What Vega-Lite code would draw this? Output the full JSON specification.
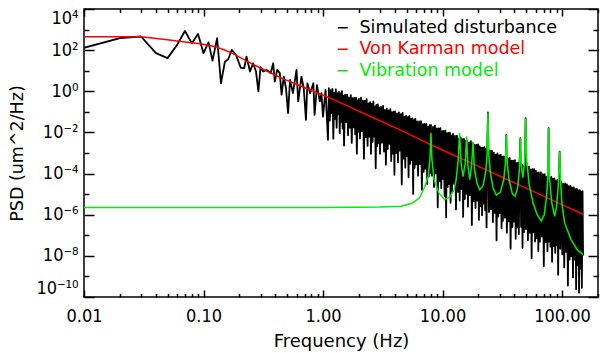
{
  "$schema": "https://vega.github.io/schema/vega-lite/v6.json",
  "width": 514,
  "height": 288,
  "autosize": {"type": "none"},
  "padding": {"left": 84, "top": 9, "right": 2, "bottom": 56},
  "background": "white",
  "config": {"view": {"stroke": "black", "strokeWidth": 1.5}, "font": "DejaVu Sans"},
  "datasets": {
    "black": [
      {"f":0.01,"p":130},{"f":0.02,"p":380},{"f":0.03,"p":460},{"f":0.04,"p":71},{"f":0.05,"p":41},{"f":0.06,"p":178},{"f":0.07,"p":850},{"f":0.08,"p":214},{"f":0.09,"p":617},{"f":0.1,"p":71},{"f":0.11,"p":240},{"f":0.119,"p":31},{"f":0.13,"p":380},{"f":0.14,"p":2.45},{"f":0.151,"p":27.5},{"f":0.161,"p":36},{"f":0.172,"p":102},{"f":0.187,"p":59},{"f":0.205,"p":14},{"f":0.219,"p":13},{"f":0.229,"p":48},{"f":0.245,"p":9.1},{"f":0.26,"p":23},{"f":0.275,"p":9.1},{"f":0.288,"p":0.98},{"f":0.3,"p":15},{"f":0.316,"p":9.1},{"f":0.338,"p":11},{"f":0.365,"p":7.6},{"f":0.383,"p":23},{"f":0.395,"p":2.95},{"f":0.413,"p":11},{"f":0.435,"p":7.6},{"f":0.45,"p":0.68},{"f":0.47,"p":5.1},{"f":0.49,"p":1.41},{"f":0.51,"p":0.087},{"f":0.53,"p":3.55},{"f":0.56,"p":0.81},{"f":0.6,"p":11},{"f":0.62,"p":0.32},{"f":0.66,"p":5.1},{"f":0.69,"p":1.41},{"f":0.72,"p":0.041},{"f":0.74,"p":2.45},{"f":0.78,"p":0.81},{"f":0.83,"p":2.45},{"f":0.85,"p":0.071},{"f":0.89,"p":2.0},{"f":0.94,"p":0.32},{"f":0.97,"p":0.81},{"f":1.0,"p":0.059},{"f":1.05,"p":1.17},{"f":1.1,"p":0.0044},
      {"f":1.12,"p":1.41},{"f":1.14,"p":0.038},{"f":1.16,"p":1.15},{"f":1.18,"p":0.087},{"f":1.2,"p":1.32},{"f":1.22,"p":0.005},{"f":1.24,"p":0.85},{"f":1.26,"p":0.046},{"f":1.28,"p":1.23},{"f":1.3,"p":0.017},{"f":1.32,"p":0.81},{"f":1.34,"p":0.078},{"f":1.36,"p":0.93},{"f":1.38,"p":0.0091},{"f":1.4,"p":0.78},{"f":1.42,"p":0.033},{"f":1.44,"p":1.02},{"f":1.46,"p":0.0155},{"f":1.48,"p":0.6},{"f":1.5,"p":0.0023},{"f":1.53,"p":0.69},{"f":1.56,"p":0.032},{"f":1.59,"p":0.69},{"f":1.62,"p":0.0074},{"f":1.65,"p":0.5},{"f":1.68,"p":0.017},{"f":1.71,"p":0.65},{"f":1.74,"p":0.0031},{"f":1.77,"p":0.47},{"f":1.8,"p":0.0178},{"f":1.83,"p":0.48},{"f":1.86,"p":0.0081},{"f":1.89,"p":0.49},{"f":1.92,"p":0.00093},{"f":1.95,"p":0.36},{"f":1.98,"p":0.011},
      {"f":2,"p":0.43},{"f":2.04,"p":0.0051},{"f":2.08,"p":0.49},{"f":2.12,"p":0.0115},{"f":2.16,"p":0.35},{"f":2.2,"p":0.00052},{"f":2.24,"p":0.355},{"f":2.28,"p":0.006},{"f":2.32,"p":0.41},{"f":2.36,"p":0.0022},{"f":2.4,"p":0.26},{"f":2.44,"p":0.0063},{"f":2.48,"p":0.3},{"f":2.52,"p":0.00091},{"f":2.56,"p":0.245},{"f":2.6,"p":0.0034},{"f":2.64,"p":0.32},{"f":2.68,"p":0.0062},{"f":2.72,"p":0.186},{"f":2.76,"p":0.00018},{"f":2.8,"p":0.22},{"f":2.84,"p":0.0021},{"f":2.88,"p":0.23},{"f":2.92,"p":0.0031},{"f":2.96,"p":0.166},{"f":3,"p":0.00091},{"f":3.06,"p":0.174},{"f":3.12,"p":0.0032},{"f":3.18,"p":0.195},{"f":3.24,"p":0.00117},{"f":3.3,"p":0.126},{"f":3.36,"p":0.00027},{"f":3.42,"p":0.145},{"f":3.48,"p":0.00155},{"f":3.54,"p":0.117},{"f":3.6,"p":0.0028},{"f":3.66,"p":0.135},{"f":3.72,"p":0.00041},{"f":3.78,"p":0.098},{"f":3.84,"p":0.00093},{"f":3.9,"p":0.102},{"f":3.96,"p":8.7e-5},
      {"f":4,"p":0.105},{"f":4.08,"p":0.001},{"f":4.16,"p":0.085},{"f":4.24,"p":0.00035},{"f":4.32,"p":0.095},{"f":4.4,"p":0.0013},{"f":4.48,"p":0.078},{"f":4.56,"p":2.95e-5},{"f":4.64,"p":0.089},{"f":4.72,"p":0.00054},{"f":4.8,"p":0.058},{"f":4.88,"p":0.000195},{"f":4.96,"p":0.066},{"f":5.04,"p":0.00071},{"f":5.12,"p":0.055},{"f":5.2,"p":6.6e-5},{"f":5.28,"p":0.063},{"f":5.36,"p":0.0003},{"f":5.44,"p":0.046},{"f":5.52,"p":0.00045},{"f":5.6,"p":0.048},{"f":5.68,"p":1.02e-5},{"f":5.76,"p":0.04},{"f":5.84,"p":0.00019},{"f":5.92,"p":0.047},{"f":6,"p":0.00028},{"f":6.12,"p":0.034},{"f":6.24,"p":7.9e-5},{"f":6.36,"p":0.034},{"f":6.48,"p":0.00029},{"f":6.6,"p":0.035},{"f":6.72,"p":1.66e-5},{"f":6.84,"p":0.025},{"f":6.96,"p":0.00012},{"f":7.08,"p":0.0257},{"f":7.2,"p":0.000174},{"f":7.32,"p":0.0263},{"f":7.44,"p":3.16e-5},{"f":7.56,"p":0.019},{"f":7.68,"p":7.2e-5},{"f":7.8,"p":0.0224},{"f":7.92,"p":0.000107},
      {"f":8,"p":0.0234},{"f":8.16,"p":7.9e-5},{"f":8.32,"p":0.0186},{"f":8.48,"p":2.24e-5},{"f":8.64,"p":0.0214},{"f":8.8,"p":0.000102},{"f":8.96,"p":0.0155},{"f":9.12,"p":2.3e-6},{"f":9.28,"p":0.0158},{"f":9.44,"p":4.3e-5},{"f":9.6,"p":0.0162},{"f":9.76,"p":1.95e-5},{"f":9.92,"p":0.0117},{"f":10.08,"p":5.6e-5},{"f":10.24,"p":0.012},{"f":10.4,"p":8.1e-6},{"f":10.56,"p":0.0123},{"f":10.72,"p":7.6e-7},{"f":10.88,"p":0.0091},{"f":11.04,"p":2.2e-5},{"f":11.2,"p":0.0095},{"f":11.36,"p":3.2e-5},{"f":11.52,"p":0.0098},{"f":11.68,"p":3.8e-6},{"f":11.84,"p":0.0072},{"f":12,"p":1.41e-5},{"f":12.24,"p":0.0085},{"f":12.48,"p":3.16e-5},{"f":12.72,"p":0.0068},{"f":12.96,"p":1.82e-6},{"f":13.2,"p":0.0069},{"f":13.44,"p":1.32e-5},{"f":13.68,"p":0.005},{"f":13.92,"p":4.8e-6},{"f":14.16,"p":0.0058},{"f":14.4,"p":1.74e-5},{"f":14.64,"p":0.0047},{"f":14.88,"p":7.9e-7},{"f":15.12,"p":0.0048},{"f":15.36,"p":5.8e-6},{"f":15.6,"p":0.0039},{"f":15.84,"p":1.07e-5},
      {"f":16,"p":0.0041},{"f":16.32,"p":2.45e-6},{"f":16.64,"p":0.0033},{"f":16.96,"p":8.9e-6},{"f":17.28,"p":0.0038},{"f":17.6,"p":3.16e-7},{"f":17.92,"p":0.003},{"f":18.24,"p":4.6e-6},{"f":18.56,"p":0.00245},{"f":18.88,"p":2.1e-6},{"f":19.2,"p":0.0025},{"f":19.52,"p":4.8e-6},{"f":19.84,"p":0.0026},{"f":20.16,"p":5.6e-7},{"f":20.48,"p":0.0021},{"f":20.8,"p":2.6e-6},{"f":21.12,"p":0.00178},{"f":21.44,"p":9.5e-7},{"f":21.76,"p":0.0018},{"f":22.08,"p":3.5e-6},{"f":22.4,"p":0.0019},{"f":22.72,"p":1.62e-6},{"f":23.04,"p":0.00158},{"f":23.36,"p":2.4e-7},{"f":23.68,"p":0.00148},{"f":24,"p":0.093},{"f":24.48,"p":1.35e-6},{"f":24.96,"p":0.00129},{"f":25.44,"p":1.9e-6},{"f":25.92,"p":0.00129},{"f":26.4,"p":4.4e-7},{"f":26.88,"p":0.00105},{"f":27.36,"p":1.23e-6},{"f":27.84,"p":0.00083},{"f":28.32,"p":5.6e-8},{"f":28.8,"p":0.00095},{"f":29.28,"p":8.1e-7},{"f":29.76,"p":0.00079},{"f":30.24,"p":1.2e-6},{"f":30.72,"p":0.00081},{"f":31.2,"p":2.2e-7},{"f":31.68,"p":0.00066},
      {"f":32,"p":5.1e-7},{"f":32.64,"p":0.00069},{"f":33.28,"p":7.2e-7},{"f":33.92,"p":0.00055},{"f":34.2,"p":0.0076},{"f":34.56,"p":1.32e-7},{"f":35.2,"p":0.00056},{"f":35.84,"p":4.8e-7},{"f":36.48,"p":0.00058},{"f":37.12,"p":2.2e-8},{"f":37.76,"p":0.00042},{"f":38.4,"p":2.5e-7},{"f":39.04,"p":0.00043},{"f":39.68,"p":4.6e-7},{"f":40.32,"p":0.00045},{"f":40.96,"p":6.8e-8},{"f":41.6,"p":0.00032},{"f":42.24,"p":2.45e-7},{"f":42.88,"p":0.00034},{"f":43.52,"p":1.15e-7},{"f":44.16,"p":0.00035},{"f":44.8,"p":0.0052},{"f":45.44,"p":2.6e-7},{"f":46.08,"p":0.00028},{"f":46.72,"p":2.4e-8},{"f":47.36,"p":0.00023},{"f":48,"p":1.41e-7},{"f":48.96,"p":0.00026},{"f":49.6,"p":0.049},{"f":49.92,"p":2e-7},{"f":50.88,"p":0.00021},{"f":51.84,"p":5.8e-8},{"f":52.8,"p":0.00022},{"f":53.76,"p":1.32e-7},{"f":54.72,"p":0.000158},{"f":55.68,"p":7.6e-9},{"f":56.64,"p":0.000162},{"f":57.6,"p":1.38e-7},{"f":58.56,"p":0.000166},{"f":59.52,"p":5e-8},{"f":60.48,"p":0.000135},{"f":61.44,"p":7.2e-8},{"f":62.4,"p":0.000112},{"f":63.36,"p":1.7e-8},
      {"f":64,"p":0.000115},{"f":65.28,"p":4.9e-8},{"f":66.56,"p":0.000115},{"f":67.84,"p":8.7e-8},{"f":69.12,"p":9.3e-5},{"f":70.4,"p":3.16e-9},{"f":71.68,"p":9.5e-5},{"f":72.96,"p":4.6e-8},{"f":74.24,"p":6.9e-5},{"f":75.52,"p":1.66e-8},{"f":76.8,"p":7.9e-5},{"f":77.2,"p":0.0162},{"f":77.76,"p":4.9e-8},{"f":78.72,"p":6.6e-5},{"f":80,"p":2.8e-8},{"f":81.28,"p":6.8e-5},{"f":82.56,"p":5.2e-9},{"f":83.84,"p":5.6e-5},{"f":85.12,"p":3e-8},{"f":86.4,"p":5.8e-5},{"f":87.68,"p":1.41e-8},{"f":88.96,"p":4.3e-5},{"f":90.24,"p":3.2e-8},{"f":91.52,"p":5e-5},{"f":92.8,"p":1.2e-9},{"f":94.08,"p":4.2e-5},{"f":95.5,"p":0.00117},{"f":96.64,"p":2.2e-8},
      {"f":98.56,"p":4.1e-5},{"f":100.48,"p":1.2e-8},{"f":102.4,"p":3.2e-5},{"f":104.32,"p":2.75e-9},{"f":106.24,"p":3.3e-5},{"f":108.16,"p":1.58e-8},{"f":110.08,"p":3e-5},{"f":112,"p":3.6e-10},{"f":113.92,"p":2.45e-5},{"f":115.84,"p":6.6e-9},{"f":117.76,"p":2.5e-5},{"f":119.68,"p":9.5e-9},{"f":121.6,"p":2e-5},{"f":123.52,"p":8.9e-10},{"f":125.44,"p":2.1e-5},{"f":127.36,"p":6.5e-9},{"f":129.28,"p":1.74e-5},{"f":131.2,"p":2.4e-10},{"f":133.12,"p":1.82e-5},{"f":135.04,"p":3.5e-9},{"f":136.96,"p":1.51e-5},{"f":138.88,"p":1.62e-10},{"f":140.8,"p":1.58e-5},{"f":142.72,"p":2.4e-9},{"f":144.64,"p":1.32e-5},{"f":146.56,"p":2.8e-10},{"f":148.48,"p":1.38e-5},{"f":150,"p":1.05e-8}
    ],
    "red": [
      {"f":0.01,"p":450},{"f":0.03,"p":450},{"f":0.05,"p":316},{"f":0.07,"p":251},{"f":0.093,"p":204},{"f":0.11,"p":174},{"f":0.128,"p":141},{"f":0.15,"p":102},{"f":0.177,"p":68},{"f":0.2,"p":46},{"f":0.245,"p":24},{"f":0.3,"p":13.5},{"f":0.338,"p":9.5},{"f":0.4,"p":6.0},{"f":0.466,"p":4.0},{"f":0.64,"p":1.86},{"f":0.88,"p":0.89},{"f":1.1,"p":0.51},{"f":1.5,"p":0.23},{"f":2,"p":0.107},{"f":3,"p":0.037},{"f":5,"p":0.0095},{"f":7.9,"p":0.0026},{"f":10,"p":0.0014},{"f":20,"p":0.000224},{"f":30,"p":7.6e-5},{"f":50,"p":1.95e-5},{"f":100,"p":3.1e-6},{"f":150,"p":1.05e-6}
    ],
    "green": [
      {"f":0.01,"p":2.24e-6},{"f":1,"p":2.24e-6},{"f":3,"p":2.4e-6},{"f":4.5,"p":2.6e-6},{"f":5.5,"p":3.5e-6},{"f":6.4,"p":6.5e-6},{"f":7.1,"p":2.3e-5},{"f":7.6,"p":7.9e-5},{"f":7.85,"p":5e-4},{"f":8.0,"p":9.3e-3},{"f":8.15,"p":5e-4},{"f":8.5,"p":5e-5},{"f":9.3,"p":1.17e-5},{"f":10.4,"p":5.4e-6},{"f":11.5,"p":7.1e-6},{"f":12.5,"p":1.58e-5},{"f":13.0,"p":5e-5},{"f":13.5,"p":4e-4},{"f":13.9,"p":9.3e-3},{"f":14.3,"p":3.16e-4},{"f":14.85,"p":7.2e-5},{"f":15.5,"p":3.16e-4},{"f":15.9,"p":6.5e-3},{"f":16.3,"p":2.5e-4},{"f":16.9,"p":5e-5},{"f":17.5,"p":2.5e-4},{"f":18.0,"p":3.3e-3},{"f":18.5,"p":1.58e-4},{"f":19.5,"p":3.16e-5},{"f":20.5,"p":1.62e-5},{"f":21.8,"p":2.5e-5},{"f":23.0,"p":1.26e-4},{"f":23.6,"p":7.9e-4},{"f":24.0,"p":9.3e-2},{"f":24.4,"p":7.9e-4},{"f":25.2,"p":1e-4},{"f":26.5,"p":2e-5},{"f":28.2,"p":8.9e-6},{"f":30.5,"p":1.26e-5},{"f":32.5,"p":5e-5},{"f":33.6,"p":3.16e-4},{"f":34.2,"p":7.6e-3},{"f":34.8,"p":3.16e-4},{"f":36,"p":5e-5},{"f":38.5,"p":1e-5},{"f":40.5,"p":7.9e-6},{"f":42.5,"p":2e-5},{"f":44,"p":1.58e-4},{"f":44.8,"p":5.2e-3},{"f":45.7,"p":2.5e-4},{"f":47,"p":6.3e-5},{"f":48.7,"p":4e-4},{"f":49.6,"p":4.9e-2},{"f":50.6,"p":5e-4},{"f":53,"p":3.16e-5},{"f":57,"p":4e-6},{"f":62,"p":1e-6},{"f":67,"p":5e-7},{"f":71,"p":1e-6},{"f":74,"p":6.3e-6},{"f":76,"p":6.3e-5},{"f":77.2,"p":1.62e-2},{"f":78.5,"p":6.3e-5},{"f":82,"p":4e-6},{"f":86.7,"p":8.3e-7},{"f":90,"p":2.5e-6},{"f":93,"p":2.5e-5},{"f":95.5,"p":1.17e-3},{"f":97.5,"p":3.16e-5},{"f":100,"p":3.16e-6},{"f":105,"p":4.1e-7},{"f":119,"p":6.2e-8},{"f":134,"p":2e-8},{"f":150,"p":1.15e-8}
    ]
  },
  "layer": [
    {
      "data": {"name": "black"},
      "mark": {"type": "line", "strokeWidth": 1.8, "strokeJoin": "round", "clip": true},
      "encoding": {
        "x": {"field": "f", "type": "quantitative",
          "scale": {"type": "log", "domain": [0.01, 200], "nice": false},
          "axis": {"orient": "bottom",
            "values": [0.01,0.02,0.03,0.04,0.05,0.06,0.07,0.08,0.09,0.1,0.2,0.3,0.4,0.5,0.6,0.7,0.8,0.9,1,2,3,4,5,6,7,8,9,10,20,30,40,50,60,70,80,90,100,200],
            "domain": false, "grid": false, "labelFlush": false, "labelOverlap": false, "labelBound": false,
            "tickColor": "black", "tickWidth": 1.5,
            "tickSize": {"condition": {"test": "abs(log(datum.value)/LN10-round(log(datum.value)/LN10))<1e-6", "value": -7}, "value": -3.5},
            "labelExpr": "abs(log(datum.value)/LN10-round(log(datum.value)/LN10))<1e-6 ? format(datum.value,'.2f') : ''",
            "labelPadding": 17, "labelFont": "DejaVu Sans Condensed, DejaVu Sans", "labelFontSize": 18, "labelColor": "black",
            "title": "Frequency (Hz)", "titleFont": "DejaVu Sans", "titleFontSize": 18, "titleFontWeight": "normal", "titleColor": "black",
            "titleY": 49, "titleBaseline": "alphabetic"}},
        "y": {"field": "p", "type": "quantitative",
          "scale": {"type": "log", "domain": [1e-10, 10000], "nice": false},
          "axis": {"orient": "left",
            "values": [10000,1000,100,10,1,0.1,0.01,0.001,0.0001,1e-5,1e-6,1e-7,1e-8,1e-9,1e-10],
            "domain": false, "grid": false, "labelFlush": true, "labelOverlap": false, "labelBound": false,
            "tickColor": "black", "tickWidth": 1.5,
            "tickSize": {"condition": {"test": "round(log(datum.value)/LN10) % 2 == 0", "value": -10}, "value": -5},
            "labelExpr": "round(log(datum.value)/LN10) % 2 != 0 ? '' : '10' + (datum.value < 1 ? '\u207b' : '') + replace(replace(replace(replace(replace(replace('' + abs(round(log(datum.value)/LN10)), '0', '\u2070'), '1', '\u00b9'), '2', '\u00b2'), '4', '\u2074'), '6', '\u2076'), '8', '\u2078')",
            "labelPadding": 16, "labelFont": "DejaVu Sans Condensed, DejaVu Sans", "labelFontSize": 18, "labelColor": "black",
            "title": "PSD (um^2/Hz)", "titleFont": "DejaVu Sans", "titleFontSize": 17.5, "titleFontWeight": "normal", "titleColor": "black",
            "titleX": -62, "titleBaseline": "alphabetic"}},
        "color": {"datum": "Simulated disturbance", "type": "nominal",
          "scale": {"domain": ["Simulated disturbance", "Von Karman model", "Vibration model"], "range": ["#000000", "#ff0000", "#00ee00"]},
          "legend": {"orient": "none", "legendX": 250, "legendY": 10, "title": null, "symbolType": "stroke", "symbolSize": 100,
            "symbolStrokeWidth": 1.5, "labelFont": "DejaVu Sans", "labelFontSize": 17.5, "labelOffset": 8, "rowPadding": 2.5,
            "padding": 0, "labelLimit": 400,
            "encode": {"labels": {"update": {"fill": {"scale": "color", "field": "value"}}}}}}
      }
    },
    {
      "data": {"name": "red"},
      "mark": {"type": "line", "strokeWidth": 1.5, "clip": true},
      "encoding": {
        "x": {"field": "f", "type": "quantitative",
          "scale": {"type": "log", "domain": [0.01, 200], "nice": false},
          "axis": {"orient": "top",
            "values": [0.01,0.02,0.03,0.04,0.05,0.06,0.07,0.08,0.09,0.1,0.2,0.3,0.4,0.5,0.6,0.7,0.8,0.9,1,2,3,4,5,6,7,8,9,10,20,30,40,50,60,70,80,90,100,200],
            "domain": false, "grid": false, "labels": false, "title": null,
            "tickColor": "black", "tickWidth": 1.5,
            "tickSize": {"condition": {"test": "abs(log(datum.value)/LN10-round(log(datum.value)/LN10))<1e-6", "value": -7}, "value": -3.5}}},
        "y": {"field": "p", "type": "quantitative",
          "scale": {"type": "log", "domain": [1e-10, 10000], "nice": false},
          "axis": {"orient": "right",
            "values": [10000,1000,100,10,1,0.1,0.01,0.001,0.0001,1e-5,1e-6,1e-7,1e-8,1e-9,1e-10],
            "domain": false, "grid": false, "labels": false, "title": null,
            "tickColor": "black", "tickWidth": 1.5,
            "tickSize": {"condition": {"test": "round(log(datum.value)/LN10) % 2 == 0", "value": -10}, "value": -5}}},
        "color": {"datum": "Von Karman model", "type": "nominal"}
      }
    },
    {
      "data": {"name": "green"},
      "mark": {"type": "line", "strokeWidth": 1.5, "clip": true},
      "encoding": {
        "x": {"field": "f", "type": "quantitative", "scale": {"type": "log", "domain": [0.01, 200], "nice": false}, "axis": null},
        "y": {"field": "p", "type": "quantitative", "scale": {"type": "log", "domain": [1e-10, 10000], "nice": false}, "axis": null},
        "color": {"datum": "Vibration model", "type": "nominal"}
      }
    }
  ],
  "resolve": {"axis": {"x": "independent", "y": "independent"}}
}
